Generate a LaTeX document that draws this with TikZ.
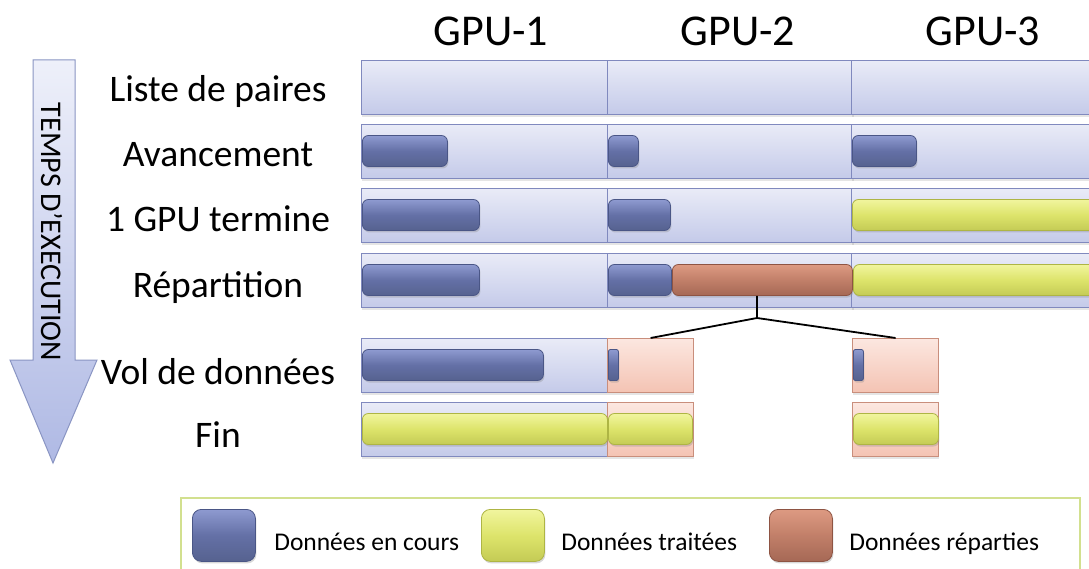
\documentclass[tikz,border=0pt]{standalone}
\usepackage{fontspec}
\setmainfont{Carlito}
\usepackage{xcolor}
\usetikzlibrary{positioning,shadows,calc}
\definecolor{celltop}{HTML}{E9EBF7}
\definecolor{cellbot}{HTML}{C4CAE9}
\definecolor{cellline}{HTML}{8089BE}
\definecolor{pinktop}{HTML}{FCE7E0}
\definecolor{pinkbot}{HTML}{F4C3B3}
\definecolor{pinkline}{HTML}{C98E7C}
\definecolor{bluetop}{HTML}{8E9AD0}
\definecolor{bluemid}{HTML}{6470A6}
\definecolor{bluebot}{HTML}{56628F}
\definecolor{blueline}{HTML}{4A5686}
\definecolor{yeltop}{HTML}{F1F59E}
\definecolor{yelmid}{HTML}{DDE46B}
\definecolor{yelbot}{HTML}{C4CB55}
\definecolor{yelline}{HTML}{AEB544}
\definecolor{orgtop}{HTML}{DD9A82}
\definecolor{orgmid}{HTML}{C17F69}
\definecolor{orgbot}{HTML}{A56855}
\definecolor{orgline}{HTML}{8E5443}
\definecolor{legline}{HTML}{D2E08F}
\definecolor{arrtop}{HTML}{EEF0FA}
\definecolor{arrbot}{HTML}{AFB9E4}
\definecolor{arrline}{HTML}{8A95C3}
\tikzset{
  cell/.style={draw=cellline, line width=1.2pt, top color=celltop, bottom color=cellbot,
               minimum width=246pt, minimum height=54pt, inner sep=0pt, anchor=north west,
               drop shadow={shadow xshift=0pt, shadow yshift=-2.5pt, opacity=0.2}},
  pinkcell/.style={cell, draw=pinkline, top color=pinktop, bottom color=pinkbot, minimum width=86pt},
  bar/.style={rounded corners=6pt, line width=0.8pt, minimum height=31pt, inner sep=0pt, anchor=west,
              drop shadow={shadow xshift=1pt, shadow yshift=-2pt, opacity=0.3}},
  bluebar/.style={bar, draw=blueline, top color=bluetop, bottom color=bluebot, middle color=bluemid},
  yelbar/.style={bar, draw=yelline, top color=yeltop, bottom color=yelbot, middle color=yelmid},
  orgbar/.style={bar, draw=orgline, top color=orgtop, bottom color=orgbot, middle color=orgmid},
  thin/.style={minimum width=10pt, rounded corners=2pt},
  swatch/.style={minimum width=63pt, minimum height=52pt, rounded corners=9pt, anchor=north west},
  head/.style={font=\fontsize{44}{48}\selectfont, anchor=base},
  rowlbl/.style={font=\fontsize{37.5}{42}\selectfont, anchor=base},
  leglbl/.style={font=\fontsize{25.5}{28}\selectfont, anchor=base west}
}
\begin{document}
\begin{tikzpicture}[x=1pt,y=-1pt]
  \clip (0,0) rectangle (1089,569);
  \fill[white] (0,0) rectangle (1089,569);

  % time arrow
  \draw[arrline, line width=1pt, top color=arrtop, bottom color=arrbot]
    (33,60) -- (75,60) -- (75,360) -- (97,360) -- (53,463) -- (10,360) -- (33,360) -- cycle;
  \node[rotate=-90, font=\fontsize{30}{32}\selectfont] (temps) at (52,232) {TEMPS D’EXECUTION};

  % headers
  \node[head] (gpu1) at (491,46) {GPU-1};
  \node[head] (gpu2) at (738,46) {GPU-2};
  \node[head] (gpu3) at (983,46) {GPU-3};

  % row labels
  \node[rowlbl] (l1) at (218,102) {Liste de paires};
  \node[rowlbl] (l2) at (218,167) {Avancement};
  \node[rowlbl] (l3) at (218,232) {1 GPU termine};
  \node[rowlbl] (l4) at (218,298) {Répartition};
  \node[rowlbl] (l5) at (218,384) {Vol de données};
  \node[rowlbl] (l6) at (218,447) {Fin};

  % rows 1-4: one cell per GPU
  \foreach \y/\r in {60/1,124/2,188/3,253/4}{
    \foreach \x/\c in {361/a,607/b,851/c}
      \node[cell] (r\r\c) at (\x,\y) {};
  }
  % rows 5-6
  \node[cell] (r5a) at (361,338) {};
  \node[pinkcell] (r5b) at (607,338) {};
  \node[pinkcell] (r5c) at (852,338) {};
  \node[cell] (r6a) at (361,402) {};
  \node[pinkcell] (r6b) at (607,402) {};
  \node[pinkcell] (r6c) at (852,402) {};

  % bars
  \node[bluebar, minimum width=85pt] (b2a) at (362,151) {};
  \node[bluebar, minimum width=30pt] (b2b) at (608,151) {};
  \node[bluebar, minimum width=64pt] (b2c) at (852,151) {};

  \node[bluebar, minimum width=117pt] (b3a) at (362,215) {};
  \node[bluebar, minimum width=62pt] (b3b) at (608,215) {};
  \node[yelbar, minimum width=260pt] (y3c) at (852,215) {};

  \node[bluebar, minimum width=117pt] (b4a) at (362,280) {};
  \node[bluebar, minimum width=63pt] (b4b) at (608,280) {};
  \node[orgbar, minimum width=180pt] (orbar) at (672,280) {};
  \node[yelbar, minimum width=260pt] (y4c) at (853,280) {};

  \node[bluebar, minimum width=181pt] (b5a) at (362,365) {};
  \node[bluebar, thin] (b5b) at (608,365) {};
  \node[bluebar, thin] (b5c) at (853,365) {};

  \node[yelbar, minimum width=245pt] (y6a) at (362,429) {};
  \node[yelbar, minimum width=84pt] (y6b) at (608,429) {};
  \node[yelbar, minimum width=85pt] (y6c) at (853,429) {};

  % split of the distributed data
  \coordinate (split) at (757,318);
  \draw[black, line width=1.8pt] (orbar.south -| split) -- (split) -- (r5b.north);
  \draw[black, line width=1.8pt] (split) -- (r5c.north);

  % legend
  \draw[legline, line width=1.5pt, fill=white] (181,498) rectangle (1080,600);
  \node[bar, swatch, draw=blueline, top color=bluetop, bottom color=bluebot, middle color=bluemid] (sw1) at (192,509) {};
  \node[leglbl] (t1) at ($(sw1.east)+(15,15)$) {Données en cours};
  \node[bar, swatch, draw=yelline, top color=yeltop, bottom color=yelbot, middle color=yelmid] (sw2) at (481,509) {};
  \node[leglbl] (t2) at ($(sw2.east)+(13,15)$) {Données traitées};
  \node[bar, swatch, draw=orgline, top color=orgtop, bottom color=orgbot, middle color=orgmid] (sw3) at (769,509) {};
  \node[leglbl] (t3) at ($(sw3.east)+(13,15)$) {Données réparties};
\end{tikzpicture}
\end{document}
